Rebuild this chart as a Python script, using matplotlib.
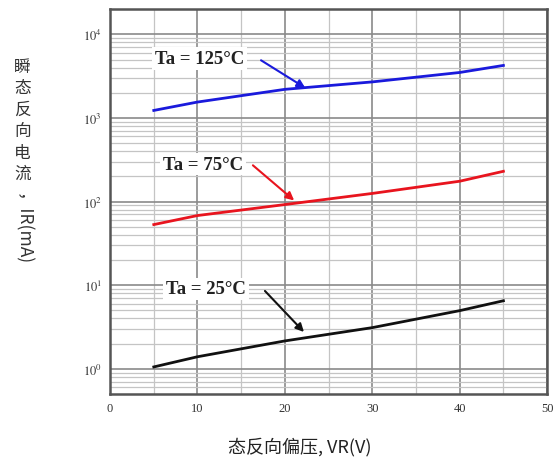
#!/usr/bin/env python3
"""Reverse leakage current vs reverse voltage at three temperatures."""

import matplotlib

matplotlib.use('Agg')
import matplotlib.pyplot as plt
from matplotlib.ticker import FixedLocator, LogLocator, NullFormatter

# data
vr = [5, 10, 20, 30, 40, 45]
ir_125 = [1230, 1550, 2200, 2700, 3500, 4250]
ir_75 = [53, 68, 92, 125, 175, 230]
ir_25 = [1.05, 1.39, 2.15, 3.1, 4.95, 6.5]

labels = ['Ta = 125°C', 'Ta = 75°C', 'Ta = 25°C']
colors = ['#1a1adc', '#e8141e', '#111111']
# label centre, arrow start, arrow tip (data coords)
label_pos = [(10.2, 5100), (10.6, 280), (11.0, 9.0)]
arrow_from = [(17.0, 5100), (16.1, 285), (17.5, 9.0)]
arrow_tip = [(22.6, 2200), (21.3, 98), (22.4, 2.6)]

plt.rcParams['mathtext.fontset'] = 'stix'

fig = plt.figure(figsize=(5.56, 4.64), dpi=100)
ax = fig.add_axes([0.198, 0.149, 0.786, 0.829])

for y, c in zip([ir_125, ir_75, ir_25], colors):
    ax.plot(vr, y, color=c, lw=2.0, zorder=3)

ax.set_yscale('log')
ax.set_xlim(0, 50)
ax.set_ylim(0.5, 2e4)

ax.set_xticks(range(0, 51, 10))
ax.xaxis.set_minor_locator(FixedLocator(range(5, 50, 10)))
ax.yaxis.set_major_locator(FixedLocator([1, 10, 100, 1000, 10000]))
ax.yaxis.set_minor_locator(LogLocator(base=10, subs=range(2, 10)))
ax.yaxis.set_minor_formatter(NullFormatter())
ax.set_yticklabels([f'$10^{{{n}}}$' for n in range(5)])

ax.grid(which='major', color='#8a8a8a', lw=1.2)
ax.grid(which='minor', color='#c4c4c4', lw=0.9)
ax.set_axisbelow(True)
ax.tick_params(which='both', length=0, pad=6)
for t in ax.get_xticklabels() + ax.get_yticklabels():
    t.set_family('Liberation Serif')
    t.set_fontsize(9)
    t.set_color('#333333')
for s in ax.spines.values():
    s.set_color('#555555')
    s.set_linewidth(1.8)

for lab, c, (lx, ly), start, tip in zip(labels, colors, label_pos,
                                        arrow_from, arrow_tip):
    ax.annotate('', xy=tip, xytext=start,
                arrowprops=dict(arrowstyle='-|>', color=c, lw=1.5,
                                mutation_scale=12), zorder=4)
    ax.text(lx, ly, lab, ha='center', va='center', family='Liberation Serif',
            fontsize=13.5, fontweight='bold', color='#222222', zorder=5,
            bbox=dict(facecolor='white', edgecolor='none', pad=2))

# vertical y label: stacked CJK chars then rotated latin part
cjk = ['Noto Sans CJK SC', 'DejaVu Sans']
chars = '瞬态反向电流'
y0 = 0.855
for i, ch in enumerate(chars):
    fig.text(0.04, y0 - i * 0.0463, ch, ha='center', va='center',
             family=cjk, fontsize=12, color='#333333')
fig.text(0.04, 0.585, '，IR(mA)', ha='center', va='top', rotation=-90,
         family=cjk, fontsize=12.5, color='#333333')

fig.text(0.54, 0.036, '态反向偏压, VR(V)', ha='center', va='center',
         family=cjk, fontsize=13, color='#222222')

fig.savefig('out.png', dpi=100)
